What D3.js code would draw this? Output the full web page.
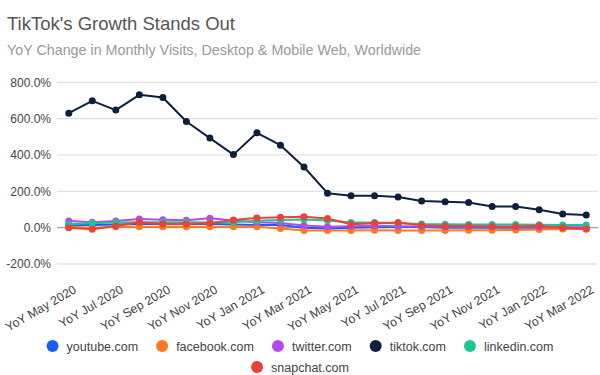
<!DOCTYPE html>
<html>
<head>
<meta charset="utf-8">
<script src="https://cdn.jsdelivr.net/npm/d3@7"></script>
<style>
  body { margin: 0; background: #fff; }
  svg { font-family: "Liberation Sans", Arial, sans-serif; }
</style>
</head>
<body>
<div id="chart"></div>
<script>
// Months of the chart (YoY comparison)
const months = ["May 2020", "Jun 2020", "Jul 2020", "Aug 2020", "Sep 2020", "Oct 2020", "Nov 2020", "Dec 2020",
    "Jan 2021", "Feb 2021", "Mar 2021", "Apr 2021", "May 2021", "Jun 2021", "Jul 2021", "Aug 2021",
    "Sep 2021", "Oct 2021", "Nov 2021", "Dec 2021", "Jan 2022", "Feb 2022", "Mar 2022"];

// YoY change in %
const youtube = [15, 14, 18, 20, 20, 20, 22, 18, 15, 14, 0, -5, 0, 2, 4, 3, 0, 0, 0, 0, 0, -2, -4];
const facebook = [5, 0, 5, 5, 5, 5, 5, 5, 5, -4, -16, -16, -15, -14, -15, -15, -15, -14, -14, -13, -10, -8, -7];
const twitter = [37, 30, 37, 48, 44, 41, 52, 40, 30, 25, 12, 5, 8, 10, 8, 6, 5, 5, 5, 5, 4, 3, 2];
const tiktok = [630, 698, 647, 731, 716, 584, 493, 402, 522, 454, 334, 190, 175, 175, 169, 147, 143, 138, 116, 116, 99, 75, 70];
const linkedin = [19, 24, 28, 30, 30, 30, 28, 30, 38, 42, 45, 40, 28, 29, 24, 20, 19, 18, 18, 18, 16, 15, 15];
const snapchat = [0, -9, 9, 30, 20, 20, 25, 42, 53, 57, 60, 50, 19, 24, 28, 13, 9, 9, 6, 6, 11, 0, -7];

const yTicks = [-200, 0, 200, 400, 600, 800];

const series = [
    { name: "youtube.com", values: youtube, color: "#1c5cf5" },
    { name: "facebook.com", values: facebook, color: "#fb7a1e" },
    { name: "twitter.com", values: twitter, color: "#b549f0" },
    { name: "tiktok.com", values: tiktok, color: "#0d1f3c" },
    { name: "linkedin.com", values: linkedin, color: "#1cc497" },
    { name: "snapchat.com", values: snapchat, color: "#e8423a" }
];

const width = 600, height = 375;
const svg = d3.select("#chart").append("svg")
    .attr("width", width)
    .attr("height", height);

// Title + subtitle
svg.append("text")
    .attr("x", 7).attr("y", 30)
    .style("font-size", "18.5px")
    .style("fill", "#555")
    .text("TikTok's Growth Stands Out");

svg.append("text")
    .attr("x", 7).attr("y", 55)
    .style("font-size", "14.3px")
    .style("fill", "#9a9a9a")
    .text("YoY Change in Monthly Visits, Desktop & Mobile Web, Worldwide");

const x = d3.scalePoint()
    .domain(months)
    .range([57, 598])
    .padding(0.5);

const y = d3.scaleLinear()
    .domain([-200, 800])
    .range([264, 82.3]);

// Gridlines
svg.append("g")
    .selectAll("line")
    .data(yTicks.filter(d => d !== 0))
    .enter().append("line")
    .attr("x1", 57).attr("x2", 598)
    .attr("y1", d => y(d)).attr("y2", d => y(d))
    .attr("stroke", "#d9d9d9")
    .attr("stroke-width", 1);

svg.append("line")
    .attr("x1", 57).attr("x2", 598)
    .attr("y1", y(0)).attr("y2", y(0))
    .attr("stroke", "#8a8a8a")
    .attr("stroke-width", 1);

// Y axis labels
const yAxis = svg.append("g")
    .attr("transform", "translate(57,0)")
    .call(d3.axisLeft(y).tickValues(yTicks).tickSize(0).tickPadding(6)
        .tickFormat(d => d.toFixed(1) + "%"));
yAxis.select(".domain").remove();
yAxis.selectAll("text")
    .style("font-size", "12px")
    .style("font-family", "'Liberation Sans', Arial, sans-serif")
    .style("fill", "#444");

// X axis labels (every other month), rotated
const xAxis = svg.append("g")
    .attr("transform", `translate(0,${y(-200)})`)
    .call(d3.axisBottom(x).tickValues(months.filter((d, i) => i % 2 === 0))
        .tickSize(0).tickFormat(d => "YoY " + d));
xAxis.select(".domain").remove();
xAxis.selectAll("text")
    .style("font-size", "12.3px")
    .style("font-family", "'Liberation Sans', Arial, sans-serif")
    .style("fill", "#444")
    .style("text-anchor", "end")
    .attr("y", 0)
    .attr("dx", 0)
    .attr("dy", 0)
    .attr("transform", "translate(8,28) rotate(-30)");

// Lines and points
const line = d3.line()
    .x((d, i) => x(months[i]))
    .y(d => y(d));

series.forEach(s => {
    const g = svg.append("g");
    g.append("path")
        .datum(s.values)
        .attr("fill", "none")
        .attr("stroke", s.color)
        .attr("stroke-width", 2)
        .attr("stroke-linejoin", "round")
        .attr("d", line);
    g.selectAll("circle")
        .data(s.values)
        .enter().append("circle")
        .attr("cx", (d, i) => x(months[i]))
        .attr("cy", d => y(d))
        .attr("r", 3.5)
        .attr("fill", s.color);
});

// Legend, two rows centered on the page
const legendRows = [series.slice(0, 5), series.slice(5)];
const legendCenter = 300;
legendRows.forEach((row, ri) => {
    const g = svg.append("g");
    let cursor = 0;
    row.forEach(s => {
        const item = g.append("g").attr("transform", `translate(${cursor},0)`);
        item.append("circle")
            .attr("cx", 6).attr("cy", 0).attr("r", 6)
            .attr("fill", s.color);
        const t = item.append("text")
            .attr("x", 20).attr("y", 4.5)
            .style("font-size", "12.5px")
            .style("fill", "#444")
            .text(s.name);
        cursor += 20 + t.node().getComputedTextLength() + 18;
    });
    const total = cursor - 18;
    g.attr("transform", `translate(${legendCenter - total / 2},${346 + ri * 21})`);
});
</script>
</body>
</html>
